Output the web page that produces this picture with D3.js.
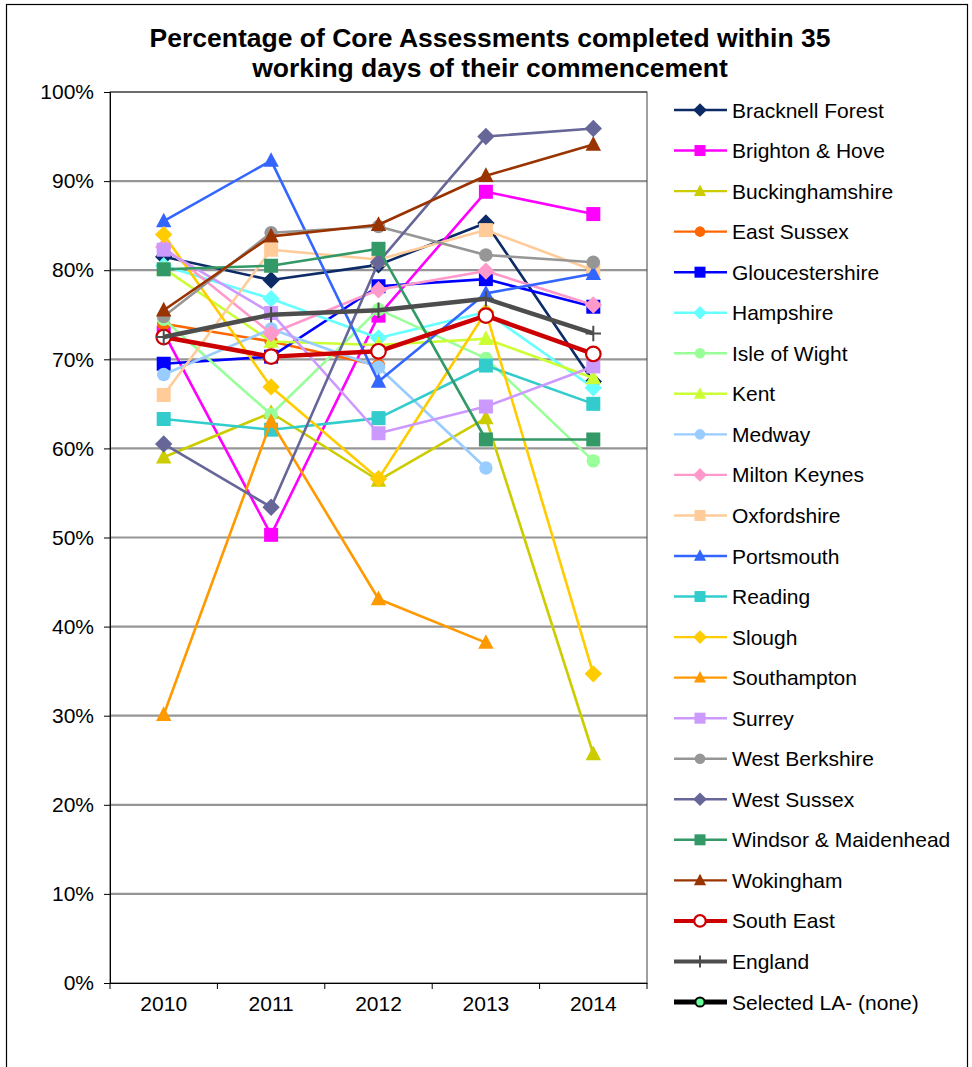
<!DOCTYPE html>
<html><head><meta charset="utf-8">
<script src="https://cdn.jsdelivr.net/npm/d3@7"></script>
<style>body{margin:0;background:#fff}svg{display:block;font-family:Arial,"Liberation Sans",sans-serif}</style>
</head><body><svg id="c" width="972" height="1067"></svg>
<script>
const years = ["2010","2011","2012","2013","2014"];
const yTicks = [0,0.1,0.2,0.3,0.4,0.5,0.6,0.7,0.8,0.9,1.0];
const seriesNames = ["Bracknell Forest","Brighton & Hove","Buckinghamshire","East Sussex","Gloucestershire","Hampshire","Isle of Wight","Kent","Medway","Milton Keynes","Oxfordshire","Portsmouth","Reading","Slough","Southampton","Surrey","West Berkshire","West Sussex","Windsor & Maidenhead","Wokingham","South East","England","Selected LA- (none)"];
const bracknellForest = [81.5, 78.9, 80.6, 85.3, 67.5];
const brightonHove    = [73.0, 50.3, 74.9, 88.8, 86.3];
const buckinghamshire = [59.0, 64.0, 56.4, 63.4, 25.7];
const eastSussex      = [74.0, 72.0, 69.3, null, null];
const gloucestershire = [69.5, 70.3, 78.2, 79.0, 75.9];
const hampshire       = [80.5, 76.8, 72.4, 75.3, 66.8];
const isleOfWight     = [74.5, 63.8, 75.6, 70.1, 58.6];
const kent            = [80.2, 72.0, 71.6, 72.3, 67.9];
const medway          = [68.3, 73.4, 69.1, 57.8, null];
const miltonKeynes    = [82.6, 72.9, 77.8, 79.9, 76.1];
const oxfordshire     = [66.0, 82.3, 81.2, 84.5, 80.0];
const portsmouth      = [85.5, 92.3, 67.5, 77.4, 79.6];
const reading         = [63.3, 62.1, 63.4, 69.3, 65.0];
const slough          = [84.0, 66.9, 56.6, 75.3, 34.7];
const southampton     = [30.1, 63.0, 43.1, 38.2, null];
const surrey          = [82.3, 75.2, 61.7, 64.7, 69.2];
const westBerkshire   = [74.8, 84.2, 84.9, 81.7, 80.9];
const westSussex      = [60.5, 53.4, 80.9, 95.0, 95.9];
const windsorMaidenhead = [80.1, 80.5, 82.4, 61.0, 61.0];
const wokingham       = [75.5, 83.8, 85.1, 90.6, 94.1];
const southEast       = [72.5, 70.3, 70.9, 74.9, 70.6];
const england         = [72.5, 75.0, 75.5, 76.8, 72.9];
const selectedLA      = [null, null, null, null, null];

const seriesValues = [bracknellForest, brightonHove, buckinghamshire, eastSussex, gloucestershire, hampshire, isleOfWight, kent, medway, miltonKeynes, oxfordshire, portsmouth, reading, slough, southampton, surrey, westBerkshire, westSussex, windsorMaidenhead, wokingham, southEast, england, selectedLA];

// styles (separate from data)
const colors = ["#0C2A66","#FF00FF","#CCCC00","#FF6600","#0000FF","#66FFFF","#99FF99","#CCFF33","#99CCFF","#FF99CC","#FFCC99","#3366FF","#33CCCC","#FFCC00","#FF9900","#CC99FF","#969696","#666699","#339966","#993300","#CC0000","#4D4D4D","#000000"];
const shapes = ["diamond","square","triangle","circle","square","diamond","circle","triangle","circle","diamond","square","triangle","square","diamond","triangle","square","circle","diamond","square","triangle","opencircle","plus","greencircle"];

const svg = d3.select("#c");
const L = 110, R = 647, T = 92, B = 983;
const FONT = "Arial,'Liberation Sans',sans-serif";

svg.append("rect").attr("x",6.5).attr("y",4.5).attr("width",961).attr("height",1080)
  .attr("fill","#fff").attr("stroke","#000").attr("stroke-width",1.2);

svg.append("text").attr("x",490).attr("y",47).attr("text-anchor","middle")
  .attr("font-size",26.5).attr("font-weight","bold").text("Percentage of Core Assessments completed within 35");
svg.append("text").attr("x",490).attr("y",77).attr("text-anchor","middle")
  .attr("font-size",26.5).attr("font-weight","bold").text("working days of their commencement");

const x = d3.scaleBand().domain(years).range([L,R]);
const y = d3.scaleLinear().domain([0,1]).range([B,T]);
const cx = d => x(d) + x.bandwidth()/2;

// gridlines
svg.append("g").selectAll("line").data(yTicks.filter(t=>t>0)).join("line")
  .attr("x1",L).attr("x2",R).attr("y1",d=>y(d)).attr("y2",d=>y(d))
  .attr("stroke","#969696").attr("stroke-width",2.2);
// plot border
svg.append("rect").attr("x",L).attr("y",T).attr("width",R-L).attr("height",B-T)
  .attr("fill","none").attr("stroke","#404040").attr("stroke-width",1);

// axes
const yAxis = d3.axisLeft(y).tickValues(yTicks).tickFormat(d3.format(".0%")).tickSize(6).tickPadding(10);
const gy = svg.append("g").attr("transform",`translate(${L},0)`).call(yAxis);
gy.select(".domain").attr("stroke","#000");
gy.selectAll(".tick line").attr("stroke","#000");
gy.selectAll("text").attr("font-size",21).attr("font-family",FONT).attr("fill","#000");

const gx = svg.append("g").attr("transform",`translate(0,${B})`).call(d3.axisBottom(x).tickSize(0).tickPadding(13));
gx.select(".domain").attr("stroke","#000");
gx.selectAll("text").attr("font-size",21).attr("font-family",FONT).attr("fill","#000");
// ticks between categories
svg.append("g").selectAll("line").data(d3.range(years.length+1)).join("line")
  .attr("x1",i=>L+i*x.bandwidth()).attr("x2",i=>L+i*x.bandwidth())
  .attr("y1",B).attr("y2",B+6).attr("stroke","#000");

function drawMarker(g, shape, color, px, py, s) {
  if (shape==="square") {
    g.append("rect").attr("x",px-s/2).attr("y",py-s/2).attr("width",s).attr("height",s).attr("fill",color);
  } else if (shape==="diamond") {
    const h = s*0.62;
    g.append("path").attr("d",`M${px},${py-h}L${px+h},${py}L${px},${py+h}L${px-h},${py}Z`).attr("fill",color);
  } else if (shape==="triangle") {
    const h = s*0.55;
    g.append("path").attr("d",`M${px},${py-h*1.1}L${px+h},${py+h*0.8}L${px-h},${py+h*0.8}Z`).attr("fill",color);
  } else if (shape==="circle") {
    g.append("circle").attr("cx",px).attr("cy",py).attr("r",s*0.48).attr("fill",color);
  } else if (shape==="opencircle") {
    g.append("circle").attr("cx",px).attr("cy",py).attr("r",s*0.52).attr("fill","#fff").attr("stroke",color).attr("stroke-width",2.2);
  } else if (shape==="greencircle") {
    g.append("circle").attr("cx",px).attr("cy",py).attr("r",s*0.42).attr("fill","#66FF99").attr("stroke","#000").attr("stroke-width",2);
  } else if (shape==="plus") {
    const h = s*0.55;
    g.append("path").attr("d",`M${px-h},${py}L${px+h},${py}M${px},${py-h}L${px},${py+h}`).attr("stroke",color).attr("stroke-width",2);
  }
}

const line = d3.line().defined(d=>d.v!=null).x(d=>cx(d.yr)).y(d=>y(d.v/100));
seriesNames.forEach((name,i)=>{
  const vals = seriesValues[i];
  const pts = years.map((yr,j)=>({yr, v: vals[j]}));
  const g = svg.append("g");
  const thick = (name==="South East"||name==="England") ? 4.5 : 2.6;
  g.append("path").datum(pts).attr("d",line).attr("fill","none")
    .attr("stroke",colors[i]).attr("stroke-width",thick).attr("stroke-linejoin","round");
  pts.filter(p=>p.v!=null).forEach(p=>drawMarker(g, shapes[i], colors[i], cx(p.yr), y(p.v/100), 14));
});

// legend
const lg = svg.append("g");
const step = (1002-110)/22;
seriesNames.forEach((name,i)=>{
  const ly = 110 + i*step;
  const thick = (name==="South East"||name==="England") ? 4 : (name.startsWith("Selected") ? 5 : 2.4);
  lg.append("line").attr("x1",674).attr("x2",727).attr("y1",ly).attr("y2",ly)
    .attr("stroke",colors[i]).attr("stroke-width",thick);
  drawMarker(lg, shapes[i], colors[i], 700, ly, 11);
  lg.append("text").attr("x",732).attr("y",ly).attr("dy","0.36em").attr("font-size",21).text(name);
});
</script></body></html>
